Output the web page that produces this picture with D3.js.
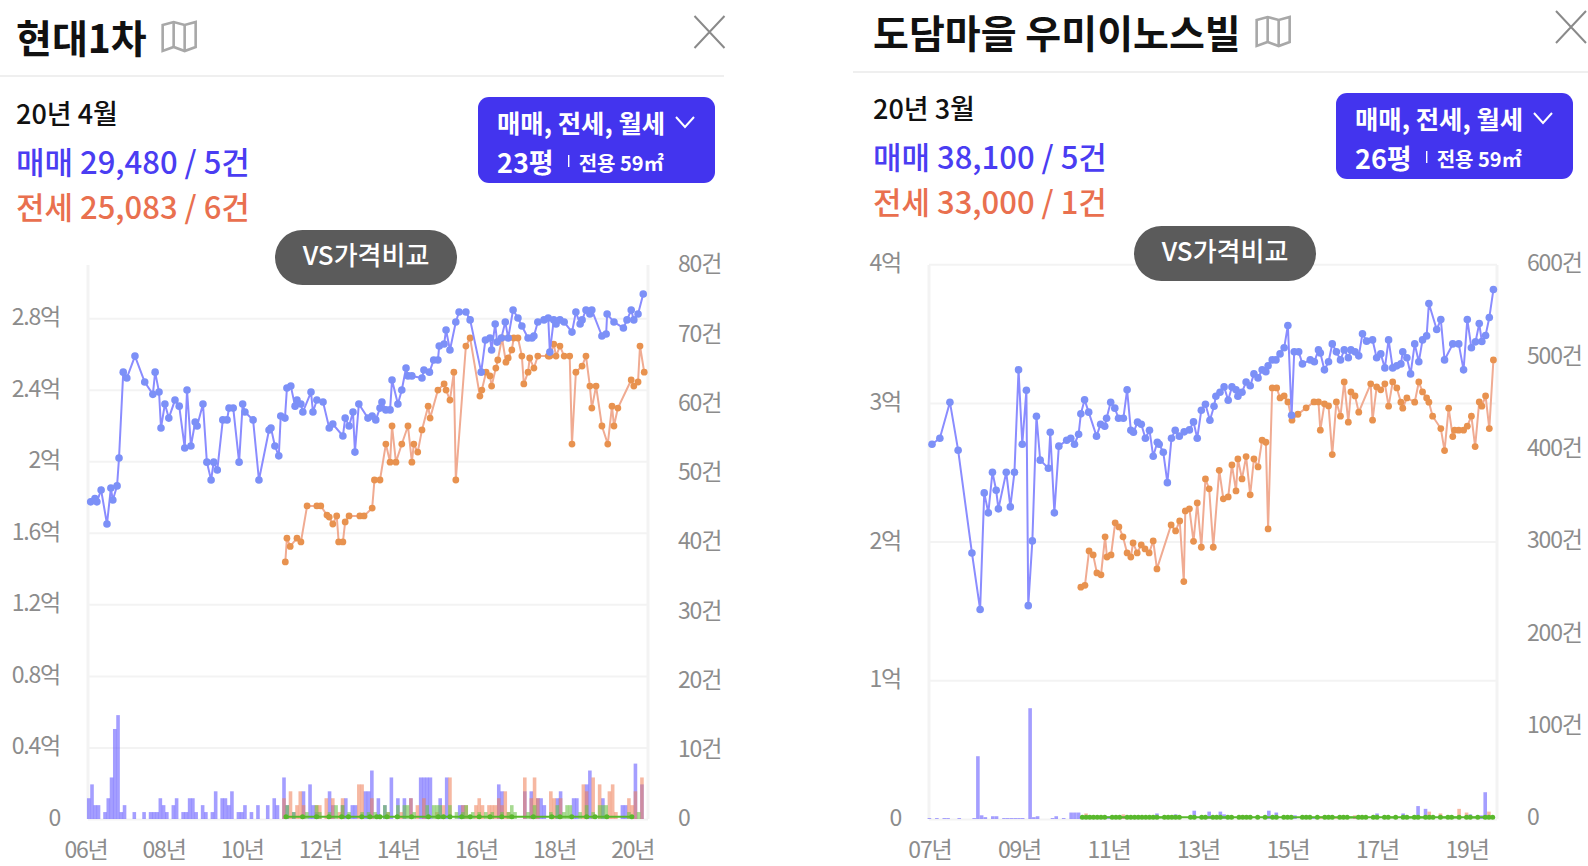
<!DOCTYPE html>
<html>
<head>
<meta charset="utf-8">
<script src="https://cdn.jsdelivr.net/npm/d3@7"></script>
<style>
  html, body { margin: 0; padding: 0; background: #fff; overflow: hidden; }
  text { font-family: "Noto Sans CJK KR", "Noto Sans", sans-serif; }
</style>
</head>
<body>
<svg id="chart" width="1588" height="866"></svg>
<script>
// [months since January of the first year, price in 억]
var hyundaiSale = [[1.6,1.773],[2.9,1.792],[3.5,1.773],[4.8,1.839],[6.6,1.649],[7.8,1.850],[8.4,1.783],[9.7,1.862],[10.3,2.018],[11.6,2.498],[12.7,2.465],[15.2,2.588],[18.2,2.443],[20.7,2.374],[21.4,2.498],[22.6,2.387],[23.2,2.186],[24.4,2.320],[25.6,2.241],[27.5,2.342],[28.8,2.308],[30.5,2.074],[31.2,2.398],[32.4,2.085],[33.7,2.219],[34.3,2.197],[36.1,2.320],[37.3,1.995],[38.6,1.895],[39.4,1.995],[40.5,1.951],[42.2,2.231],[43.5,2.231],[44.1,2.297],[45.4,2.297],[47.2,1.995],[48.3,2.320],[49,2.275],[51.5,2.231],[53.3,1.895],[56.4,2.175],[57,2.186],[58.2,2.085],[59.4,2.030],[60,2.253],[61.3,2.241],[61.9,2.409],[63.1,2.420],[64.4,2.308],[65,2.342],[66.2,2.320],[66.8,2.275],[69.3,2.387],[69.9,2.275],[71.1,2.342],[73,2.331],[74.9,2.186],[76,2.208],[79.1,2.141],[79.8,2.241],[81,2.197],[82.2,2.275],[82.8,2.051],[84,2.320],[86.8,2.241],[88.1,2.253],[89.2,2.231],[90.5,2.297],[91.1,2.331],[92.3,2.287],[93.6,2.287],[94.2,2.454],[96,2.320],[97.2,2.398],[98.5,2.521],[99.1,2.477],[100.3,2.477],[103.4,2.465],[104,2.510],[105.7,2.498],[107,2.566],[108.3,2.566],[108.7,2.644],[110.2,2.655],[110.8,2.734],[112,2.622],[113.8,2.778],[114.8,2.834],[116.9,2.834],[118.2,2.790],[121.6,2.498],[122.9,2.678],[124.3,2.689],[124.8,2.622],[125.9,2.767],[126.5,2.666],[127.8,2.689],[129,2.778],[129.9,2.689],[131.4,2.845],[132.9,2.801],[134.1,2.756],[136,2.689],[137.2,2.689],[137.8,2.700],[139,2.778],[140.9,2.790],[142.2,2.801],[142.7,2.610],[143.9,2.790],[144.6,2.767],[145.8,2.790],[147.1,2.778],[149.5,2.722],[150.7,2.834],[152,2.767],[152.6,2.790],[153.8,2.845],[155,2.823],[155.6,2.845],[158.7,2.700],[160,2.711],[160.3,2.823],[162.4,2.778],[165.3,2.745],[166.4,2.790],[167.7,2.845],[168.5,2.790],[169.8,2.823],[171.4,2.935]];
var hyundaiRent = [[61.4,1.437],[61.9,1.570],[62.9,1.524],[65,1.570],[66.2,1.549],[68.1,1.750],[71.1,1.750],[72.3,1.750],[74.2,1.699],[74.9,1.688],[76,1.649],[77.2,1.694],[77.8,1.549],[79.1,1.549],[79.8,1.661],[81,1.694],[84.3,1.694],[85.6,1.694],[88.1,1.738],[88.8,1.895],[90.5,1.895],[92.3,2.096],[93.6,1.995],[94.2,2.197],[95.4,1.995],[97.2,2.096],[99.1,2.197],[100.3,1.995],[100.9,2.096],[102.1,2.051],[103.4,2.175],[105.3,2.308],[105.9,2.241],[108.3,2.398],[110.2,2.432],[110.8,2.398],[112,2.342],[113.2,2.498],[113.8,1.895],[116.9,2.644],[118.2,2.689],[121.2,2.364],[121.8,2.398],[123.1,2.498],[124.3,2.477],[124.8,2.420],[126.1,2.521],[126.7,2.566],[128,2.689],[129.2,2.554],[129.9,2.577],[131,2.622],[131.6,2.689],[132.9,2.689],[134.1,2.588],[134.7,2.432],[136,2.498],[136.5,2.577],[137.8,2.521],[139,2.588],[142.2,2.588],[142.7,2.588],[143.9,2.655],[144.6,2.588],[145.8,2.644],[147.1,2.588],[148.8,2.588],[149.5,2.096],[150.7,2.498],[152.6,2.532],[153.8,2.588],[155,2.420],[155.6,2.297],[156.9,2.420],[158.7,2.197],[160.5,2.096],[161.8,2.308],[162.4,2.197],[163.6,2.297],[167.7,2.454],[168.5,2.420],[169.8,2.443],[170.4,2.644],[171.7,2.498]];
var hyundaiMonthly = [61.6,66.7,71,74.8,78.7,80.8,84.9,87.4,89.5,90.5,92.6,95.8,100.2,105.4,108.4,110,112,115.6,118.2,121,124.3,127.9,131,137.6,143.3,145.8,149.4,154,156.6,160.2,167.9];

// [month, number of deals]
var hyundaiSaleCount = [[1,3],[2,5],[3,2],[4,2],[6,1],[7,3],[8,6],[9,13],[10,15],[11,1],[12,2],[15,1],[18,1],[20,1],[21,1],[22,1],[23,3],[24,2],[25,1],[27,2],[28,3],[30,1],[31,1],[32,3],[33,3],[34,1],[36,2],[37,1],[39,1],[40,4],[42,3],[43,3],[44,2],[45,4],[47,1],[48,1],[49,2],[51,1],[53,2],[56,2],[58,3],[59,2],[61,6],[62,2],[64,1],[67,4],[69,5],[70,2],[71,1],[75,4],[76,2],[79,2],[80,3],[82,2],[83,2],[86,4],[87,4],[88,7],[90,3],[92,2],[94,6],[96,3],[98,3],[100,3],[103,6],[104,6],[105,6],[106,6],[109,3],[111,6],[115,2],[116,2],[127,5],[128,4],[135,4],[137,4],[139,3],[140,3],[141,2],[145,3],[146,4],[150,3],[151,3],[154,5],[155,7],[159,3],[165,2],[166,2],[169,8],[171,5]];
var hyundaiRentCount = [[61,3],[63,4],[65,2],[66,4],[67,2],[71,2],[72,2],[74,3],[76,3],[78,1],[79,3],[84,5],[85,5],[88,3],[93,1],[97,1],[100,3],[102,2],[104,3],[108,1],[110,2],[112,6],[116,2],[117,2],[120,2],[121,3],[122,2],[124,2],[125,2],[126,2],[127,3],[128,2],[129,4],[130,1],[135,6],[137,3],[138,6],[139,3],[143,4],[144,3],[146,3],[153,5],[154,4],[156,6],[158,5],[161,4],[162,5],[163,1],[167,3],[168,2],[169,4],[171,6]];
var hyundaiMonthlyCount = [[62,2],[64,1],[68,1],[71,2],[72,1],[75,1],[77,2],[79,2],[81,1],[85,1],[87,1],[89,1],[92,2],[93,1],[96,2],[98,2],[99,2],[101,1],[105,2],[107,2],[108,2],[109,2],[112,2],[114,1],[116,1],[117,2],[119,1],[121,1],[123,1],[125,1],[128,1],[130,1],[131,2],[132,1],[136,1],[138,2],[143,1],[145,2],[147,1],[148,2],[149,2],[152,1],[154,2],[156,1],[158,2],[159,2],[160,2],[167,1],[170,1]];

var dodamSale = [[0.7,2.702],[2.8,2.745],[5.5,3.005],[7.7,2.659],[11.4,1.918],[13.6,1.51],[14.7,2.351],[15.8,2.207],[16.9,2.5],[17.9,2.37],[18.5,2.236],[20.6,2.5],[21.7,2.25],[22.8,2.5],[23.9,3.238],[24.9,2.702],[26,3.091],[26.5,1.538],[27.6,2.005],[28.7,2.904],[29.7,2.587],[31.9,2.529],[32.4,2.788],[33.5,2.207],[34.7,2.688],[36.8,2.731],[37.9,2.745],[38.9,2.702],[40,2.774],[40.6,2.921],[41.6,3.022],[42.7,2.933],[44.8,2.76],[45.9,2.846],[47,2.832],[47.5,2.889],[48.6,3.005],[49.7,2.962],[50.7,2.889],[52,2.889],[53,3.094],[54,2.803],[54.7,2.788],[55.8,2.861],[56.8,2.846],[57.9,2.745],[59,2.803],[60,2.615],[61.1,2.716],[61.6,2.702],[62.7,2.644],[63.8,2.425],[64.9,2.745],[65.9,2.803],[67,2.76],[68.3,2.791],[69.7,2.805],[70.8,2.863],[71.8,2.745],[72.9,2.947],[74,2.99],[75.2,2.875],[76.3,2.976],[76.8,3.048],[77.9,3.077],[79,3.115],[80.1,3.019],[81.1,3.115],[82.2,3.094],[82.7,3.048],[83.8,3.077],[84.9,3.151],[86,3.123],[87,3.209],[88.1,3.18],[89.2,3.238],[90.2,3.224],[90.8,3.267],[91.9,3.31],[92.9,3.31],[94,3.353],[95.1,3.397],[96.1,3.558],[97.1,2.911],[97.8,3.368],[99,3.368],[100,3.281],[102.1,3.31],[103.2,3.296],[104.3,3.382],[104.8,3.36],[105.9,3.238],[107,3.296],[108,3.425],[109.1,3.368],[110.2,3.31],[111.2,3.382],[112.3,3.325],[113,3.382],[114.1,3.368],[115.1,3.339],[116.1,3.498],[117.2,3.445],[118.8,3.454],[119.9,3.325],[121,3.353],[122.1,3.252],[123.1,3.454],[124.2,3.252],[125.3,3.267],[126.4,3.281],[126.9,3.368],[128,3.325],[129,3.209],[130.1,3.425],[131.2,3.296],[132.2,3.454],[133.3,3.483],[133.9,3.716],[136,3.529],[137.1,3.601],[138.1,3.31],[140.3,3.425],[141.9,3.425],[143.2,3.238],[144.2,3.601],[145.3,3.397],[146.4,3.44],[147.4,3.572],[148.1,3.442],[149.1,3.486],[150.1,3.615],[151.2,3.817]];
var dodamRent = [[40.6,1.671],[41.7,1.685],[42.8,1.933],[43.9,1.904],[44.9,1.774],[46,1.76],[47.1,2.034],[47.6,1.889],[48.7,1.904],[49.8,2.135],[50.8,2.106],[51.9,2.034],[53,1.918],[54,1.889],[54.6,1.99],[55.7,1.918],[56.8,1.976],[57.8,1.947],[58.9,1.918],[60,2.005],[61,1.803],[64.8,2.12],[66,2.077],[67.1,2.149],[68.2,1.712],[68.6,2.221],[69.7,2.236],[70.8,2.002],[71.8,2.279],[72.9,1.959],[74,2.452],[75,2.38],[76.1,1.959],[77.7,2.514],[78.8,2.308],[80.1,2.322],[81.1,2.553],[82.2,2.365],[82.7,2.596],[83.8,2.452],[84.9,2.613],[86,2.337],[87,2.596],[88.1,2.538],[89.2,2.731],[90.2,2.716],[90.8,2.091],[91.9,3.108],[93.1,3.108],[94,3.036],[95.1,3.05],[96.1,3.007],[97.2,2.875],[98.8,2.918],[101,2.964],[103.1,3.007],[104.3,3.007],[104.8,2.803],[105.9,2.993],[107,2.978],[108,2.627],[109.1,3.007],[110.2,2.904],[111.2,3.151],[112.3,2.861],[113,3.079],[114.1,3.05],[115.1,2.933],[118.3,3.137],[118.8,2.875],[119.9,3.115],[121,3.094],[122.1,3.137],[123.1,2.976],[124.2,3.151],[125.3,3.108],[126.4,3.005],[126.9,2.962],[128,3.036],[130.1,3.005],[131.2,3.151],[132.2,3.079],[133.3,3.036],[133.9,3.005],[134.9,2.904],[137.1,2.815],[138.1,2.656],[139.2,2.962],[140.3,2.757],[140.8,2.803],[141.9,2.803],[143.2,2.803],[144.2,2.832],[145.3,2.904],[146.3,2.685],[147.4,3.007],[148.1,2.976],[149.1,3.05],[150.1,2.815],[151.2,3.31]];
var dodamMonthly = [41,42,43,44,45,46,47,49,50,51,53,54,55,56,57,58,59,60,61,63,64,65,66,67,70,71,73,74,76,77,78,80,81,83,84,85,86,88,90,92,93,95,96,97,100,101,102,104,106,107,108,110,111,112,115,116,117,119,120,122,123,125,127,128,130,131,133,134,135,137,139,140,142,144,145,147,149,150,151];

var dodamSaleCount = [[0,1],[2,1],[4,1],[5,1],[8,1],[12,1],[13,68],[14,4],[15,2],[17,3],[18,3],[20,1],[21,1],[22,1],[23,1],[24,1],[25,1],[27,120],[28,2],[29,3],[33,1],[34,3],[36,1],[38,7],[39,7],[40,7],[44,2],[48,3],[52,3],[56,2],[61,6],[66,5],[71,9],[75,8],[78,8],[79,5],[84,3],[91,9],[93,7],[98,4],[103,2],[114,2],[120,6],[127,6],[131,14],[133,11],[137,4],[145,5],[148,4],[149,29]];
var dodamRentCount = [[42,6],[52,5],[56,4],[60,3],[66,2],[70,3],[84,4],[88,3],[105,3],[109,2],[114,4],[125,2],[134,8],[137,6],[142,11],[144,7],[150,8]];
var dodamMonthlyCount = [[41,3],[42,3],[43,4],[44,3],[46,3],[47,3],[49,3],[50,3],[51,3],[53,3],[54,2],[55,3],[57,3],[58,3],[60,3],[62,3],[63,3],[65,4],[67,3],[70,3],[71,3],[74,3],[75,3],[77,3],[79,3],[81,3],[83,3],[84,3],[86,4],[88,3],[90,3],[92,3],[96,3],[97,3],[100,3],[102,3],[104,3],[107,3],[110,3],[111,3],[113,3],[115,2],[117,3],[119,3],[122,3],[124,3],[125,3],[127,3],[129,3],[130,3],[132,3],[134,3],[135,3],[138,3],[140,3],[141,3],[144,3],[146,3],[147,3],[149,3],[150,3],[151,3]];

var hyundaiPriceTicks = [0, 0.4, 0.8, 1.2, 1.6, 2, 2.4, 2.8];
var hyundaiCountTicks = [0, 10, 20, 30, 40, 50, 60, 70, 80];
var hyundaiYears = ["06년", "08년", "10년", "12년", "14년", "16년", "18년", "20년"];
var dodamPriceTicks = [0, 1, 2, 3, 4];
var dodamCountTicks = [0, 100, 200, 300, 400, 500, 600];
var dodamYears = ["07년", "09년", "11년", "13년", "15년", "17년", "19년"];

var BLUE = "#4a3df2", RED = "#e9704f", LINE_BLUE = "#8a8cff", DOT_BLUE = "#7c90f7",
    LINE_RED = "#f0ab92", DOT_RED = "#e8924f", GREEN = "#58b82c", GRID = "#f3f3f3", LABEL = "#8c8c8c";

var svg = d3.select("#chart");

function label(g, x, y, str, size, color, weight, anchor) {
    return g.append("text")
        .attr("x", x).attr("y", y)
        .attr("dominant-baseline", "central")
        .attr("text-anchor", anchor || "start")
        .style("font-size", size + "px")
        .style("font-weight", weight || 400)
        .style("fill", color)
        .text(str);
}

function drawHeader(p) {
    var g = svg.append("g");
    var t = label(g, p.titleX, p.titleY, p.title, 39, "#111", 700);
    var tw = t.node().getComputedTextLength();

    // map icon
    var ix = p.titleX + tw + 15, iy = p.titleY - 15;
    var icon = g.append("g").attr("transform", "translate(" + ix + "," + iy + ")")
        .style("fill", "none").style("stroke", "#a8a8a8").style("stroke-width", 2.6);
    icon.append("path").attr("d", "M1 4 L12 1 L23 4 L34 1 L34 26 L23 30 L12 26 L1 30 Z");
    icon.append("path").attr("d", "M12 1 L12 26 M23 4 L23 30");

    // close
    g.append("path")
        .attr("d", "M" + (p.closeX - 15) + " " + (p.closeY - 16) + " L" + (p.closeX + 15) + " " + (p.closeY + 16)
            + " M" + (p.closeX + 15) + " " + (p.closeY - 16) + " L" + (p.closeX - 15) + " " + (p.closeY + 16))
        .style("stroke", "#8a8a8a").style("stroke-width", 2).style("fill", "none");

    g.append("line").attr("x1", p.ruleX1).attr("x2", p.ruleX2).attr("y1", p.ruleY).attr("y2", p.ruleY)
        .style("stroke", "#efefef").style("stroke-width", 2);

    label(g, p.titleX, p.titleY + 76, p.month, 27, "#111", 500);
    label(g, p.titleX, p.titleY + 124, p.saleText, 31, BLUE, 500);
    label(g, p.titleX, p.titleY + 169, p.rentText, 31, RED, 500);

    // area selector
    g.append("rect").attr("x", p.btnX).attr("y", p.btnY).attr("width", 237).attr("height", 86).attr("rx", 11)
        .style("fill", "#4334ee");
    label(g, p.btnX + 19, p.btnY + 25, "매매, 전세, 월세", 25.4, "#fff", 700);
    g.append("path")
        .attr("d", "M" + (p.btnX + 198) + " " + (p.btnY + 20) + " l9 10 l9 -10")
        .style("stroke", "#fff").style("stroke-width", 2).style("fill", "none");
    var a = label(g, p.btnX + 19, p.btnY + 64, p.area, 27, "#fff", 700);
    var ax = p.btnX + 19 + a.node().getComputedTextLength();
    g.append("line").attr("x1", ax + 15).attr("x2", ax + 15).attr("y1", p.btnY + 58).attr("y2", p.btnY + 70)
        .style("stroke", "#fff").style("stroke-width", 1.4);
    label(g, ax + 25, p.btnY + 65, p.size, 20, "#fff", 700);

    // compare pill
    g.append("rect").attr("x", p.pillX).attr("y", p.pillY).attr("width", 182).attr("height", 55).attr("rx", 27.5)
        .style("fill", "#5b5b5b");
    label(g, p.pillX + 91, p.pillY + 23, "VS가격비교", 26, "#fff", 500, "middle");
}

function drawChart(p) {
    var x = d3.scaleLinear().domain(p.monthDomain).range(p.xRange);
    var y = d3.scaleLinear().domain([0, p.priceMax]).range([p.bottom, p.top]);
    var yc = d3.scaleLinear().domain([0, p.countMax]).range([p.bottom, p.top]);
    var g = svg.append("g");

    // frame
    g.append("line").attr("x1", p.left).attr("x2", p.left).attr("y1", p.top).attr("y2", p.bottom)
        .style("stroke", GRID).style("stroke-width", 3);
    g.append("line").attr("x1", p.right).attr("x2", p.right).attr("y1", p.top).attr("y2", p.bottom)
        .style("stroke", GRID).style("stroke-width", 3);

    // left axis with gridlines
    var yAxis = g.append("g").attr("transform", "translate(" + p.left + ",0)")
        .call(d3.axisLeft(y).tickValues(p.priceTicks).tickSize(-(p.right - p.left)).tickPadding(p.left - p.priceLabelX)
            .tickFormat(function (d) { return d === 0 ? "0" : d + "억"; }));
    yAxis.select(".domain").remove();
    yAxis.selectAll("line").style("stroke", GRID).style("stroke-width", 2);
    yAxis.selectAll("text").attr("dy", "0.28em").style("font-size", "23px").style("fill", LABEL).style("letter-spacing", "-1.2px");

    // right axis
    var cAxis = g.append("g").attr("transform", "translate(" + p.right + ",0)")
        .call(d3.axisRight(yc).tickValues(p.countTicks).tickSize(0).tickPadding(p.countLabelX - p.right)
            .tickFormat(function (d) { return d === 0 ? "0" : d + "건"; }));
    cAxis.select(".domain").remove();
    cAxis.selectAll("text").attr("dy", p.countDy).style("font-size", "23px").style("fill", LABEL).style("letter-spacing", "-1.2px");

    // year axis
    var xAxis = g.append("g").attr("transform", "translate(0," + p.bottom + ")")
        .call(d3.axisBottom(x).tickValues(p.years.map(function (d, i) { return i * p.yearStep; }))
            .tickSize(0).tickPadding(23)
            .tickFormat(function (d, i) { return p.years[i]; }));
    xAxis.select(".domain").remove();
    xAxis.selectAll("text").style("font-size", "23px").style("fill", LABEL).style("letter-spacing", "-1.2px");

    // volume bars
    function bars(data, color, opacity) {
        g.append("g").selectAll("rect").data(data).enter().append("rect")
            .attr("x", function (d) { return x(d[0]) - p.barWidth / 2; })
            .attr("width", p.barWidth)
            .attr("y", function (d) { return yc(d[1]); })
            .attr("height", function (d) { return yc(0) - yc(d[1]); })
            .style("fill", color).style("opacity", opacity);
    }
    bars(p.saleCount, "#5a4fff", 0.55);
    bars(p.rentCount, "#ee7d55", 0.55);
    bars(p.monthlyCount, "#6cc24a", 0.6);

    var line = d3.line().x(function (d) { return x(d[0]); }).y(function (d) { return y(d[1]); });

    function series(data, lineColor, dotColor, r) {
        g.append("path").datum(data).attr("d", line)
            .style("fill", "none").style("stroke", lineColor).style("stroke-width", 2);
        g.append("g").selectAll("circle").data(data).enter().append("circle")
            .attr("cx", function (d) { return x(d[0]); })
            .attr("cy", function (d) { return y(d[1]); })
            .attr("r", r)
            .style("fill", dotColor);
    }

    // monthly-rent trace sits on the baseline
    var greenPts = p.monthly.map(function (m) { return [m, 0.012]; });
    series(greenPts, GREEN, GREEN, 2.5);
    series(p.rent, LINE_RED, DOT_RED, 3.4);
    series(p.sale, LINE_BLUE, DOT_BLUE, 3.8);
}

drawChart({
    sale: hyundaiSale, rent: hyundaiRent, monthly: hyundaiMonthly,
    saleCount: hyundaiSaleCount, rentCount: hyundaiRentCount, monthlyCount: hyundaiMonthlyCount,
    priceTicks: hyundaiPriceTicks, countTicks: hyundaiCountTicks, years: hyundaiYears, yearStep: 24,
    monthDomain: [0, 172], xRange: [85.5, 645.2], barWidth: 3.6,
    priceMax: 3.097, countMax: 80,
    left: 88, right: 648, top: 265, bottom: 819,
    priceLabelX: 60, countLabelX: 678, countDy: "0.3em"
});
drawChart({
    sale: dodamSale, rent: dodamRent, monthly: dodamMonthly,
    saleCount: dodamSaleCount, rentCount: dodamRentCount, monthlyCount: dodamMonthlyCount,
    priceTicks: dodamPriceTicks, countTicks: dodamCountTicks, years: dodamYears, yearStep: 24,
    monthDomain: [0, 152], xRange: [929.4, 1496.4], barWidth: 3.6,
    priceMax: 3.994, countMax: 600,
    left: 929, right: 1497, top: 265, bottom: 819,
    priceLabelX: 901, countLabelX: 1527, countDy: "0.25em"
});

// header goes last, the compare pill sits over the top gridline
drawHeader({
    title: "현대1차", titleX: 16, titleY: 36, closeX: 709.5, closeY: 32,
    ruleX1: 0, ruleX2: 724, ruleY: 76,
    month: "20년 4월", saleText: "매매 29,480 / 5건", rentText: "전세 25,083 / 6건",
    btnX: 478, btnY: 97, area: "23평", size: "전용 59㎡",
    pillX: 275, pillY: 230
});
drawHeader({
    title: "도담마을 우미이노스빌", titleX: 873, titleY: 31, closeX: 1571, closeY: 27,
    ruleX1: 853, ruleX2: 1588, ruleY: 72,
    month: "20년 3월", saleText: "매매 38,100 / 5건", rentText: "전세 33,000 / 1건",
    btnX: 1336, btnY: 93, area: "26평", size: "전용 59㎡",
    pillX: 1134, pillY: 226
});
</script>
</body>
</html>
